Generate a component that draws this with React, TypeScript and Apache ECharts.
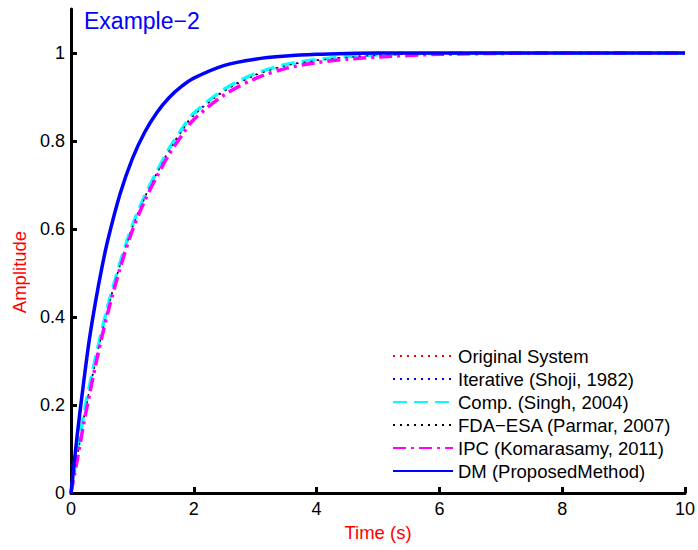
import React, { useEffect, useRef } from "react";
import * as echarts from "echarts";

const timeValues = [0, 0.1, 0.2, 0.3, 0.4, 0.5, 0.6, 0.8, 1.0, 1.2, 1.4, 1.6, 1.8, 2.0, 2.5, 3, 3.5, 4, 4.5, 5, 6, 7, 8, 9, 10];

const originalSystem = [0, 0.083, 0.163, 0.234, 0.3, 0.363, 0.42, 0.52, 0.605, 0.672, 0.728, 0.78, 0.823, 0.86, 0.915, 0.95, 0.972, 0.984, 0.991, 0.995, 0.999, 1, 1, 1, 1];
const iterativeShoji = [0, 0.085, 0.165, 0.236, 0.302, 0.364, 0.421, 0.521, 0.606, 0.673, 0.729, 0.781, 0.824, 0.861, 0.916, 0.951, 0.972, 0.984, 0.991, 0.995, 0.999, 1, 1, 1, 1];
const compSingh = [0, 0.09, 0.172, 0.243, 0.308, 0.369, 0.425, 0.524, 0.608, 0.675, 0.731, 0.783, 0.826, 0.863, 0.918, 0.953, 0.974, 0.985, 0.992, 0.996, 0.999, 1, 1, 1, 1];
const fdaEsaParmar = [0, 0.08, 0.16, 0.231, 0.297, 0.36, 0.418, 0.518, 0.603, 0.67, 0.726, 0.778, 0.821, 0.858, 0.913, 0.949, 0.971, 0.983, 0.99, 0.995, 0.999, 1, 1, 1, 1];
const ipcKomarasamy = [0, 0.074, 0.152, 0.223, 0.29, 0.353, 0.41, 0.511, 0.597, 0.664, 0.72, 0.77, 0.812, 0.849, 0.905, 0.942, 0.965, 0.978, 0.986, 0.991, 0.997, 0.999, 1, 1, 1];
const dmProposed = [0, 0.13, 0.245, 0.35, 0.435, 0.51, 0.575, 0.68, 0.76, 0.82, 0.865, 0.899, 0.924, 0.943, 0.972, 0.986, 0.993, 0.997, 0.999, 1, 1, 1, 1, 1, 1];

const seriesNames = [
  "Original System",
  "Iterative (Shoji, 1982)",
  "Comp. (Singh, 2004)",
  "FDA\u2212ESA (Parmar, 2007)",
  "IPC (Komarasamy, 2011)",
  "DM (ProposedMethod)",
];

const xTicks = [0, 2, 4, 6, 8, 10];
const yTicks = [0, 0.2, 0.4, 0.6, 0.8, 1];

const FONT = "Arial, 'Liberation Sans', Helvetica, sans-serif";

function pairs(vals: number[]) {
  return timeValues.map((t, i) => [t, vals[i]]);
}

export default function App() {
  const ref = useRef<HTMLDivElement>(null);
  useEffect(() => {
    if (!ref.current) return;
    const chart = echarts.init(ref.current, null, { renderer: "svg" });
    const styles: any[] = [
      { color: "#ff0000", width: 1.2, type: [2, 5] },
      { color: "#0000ff", width: 1.2, type: [2, 5] },
      { color: "#00ffff", width: 3.5, type: [14, 7] },
      { color: "#000000", width: 1.2, type: [2, 5] },
      { color: "#ff00ff", width: 3.5, type: [13, 5, 3, 5] },
      { color: "#0000ff", width: 3.5, type: "solid" },
    ];
    const dataSets = [originalSystem, iterativeShoji, compSingh, fdaEsaParmar, ipcKomarasamy, dmProposed];
    const option: any = {
      animation: false,
      textStyle: { fontFamily: FONT },
      grid: { left: 71, right: 11, top: 9, bottom: 57, containLabel: false },
      title: {
        text: "Example\u22122",
        left: 84,
        top: 9,
        padding: 0,
        textStyle: { color: "#0000ff", fontSize: 23, fontWeight: "normal", fontFamily: FONT },
      },
      graphic: [
        {
          type: "text",
          x: 19,
          y: 272,
          rotation: Math.PI / 2,
          style: {
            text: "Amplitude",
            fill: "#ff0000",
            fontSize: 18.5,
            fontFamily: FONT,
            align: "center",
            verticalAlign: "middle",
          },
        },
      ],
      legend: {
        orient: "vertical",
        left: 392,
        top: 346,
        padding: 0,
        itemWidth: 60,
        itemHeight: 14,
        itemGap: 3,
        data: seriesNames,
        itemStyle: { opacity: 0 },
        textStyle: { fontSize: 18.5, lineHeight: 20, color: "#000", fontFamily: FONT },
      },
      xAxis: {
        type: "value",
        min: 0,
        max: 10,
        interval: 2,
        name: "Time (s)",
        nameLocation: "middle",
        nameGap: 28,
        nameTextStyle: { color: "#ff0000", fontSize: 18.5, fontFamily: FONT },
        axisLine: { show: true, lineStyle: { color: "#000", width: 3 } },
        axisTick: { show: true, inside: true, length: 6, lineStyle: { color: "#000", width: 3 } },
        axisLabel: {
          color: "#000",
          fontSize: 18,
          margin: 7,
          fontFamily: FONT,
          formatter: (v: number) => (xTicks.includes(v) ? String(v) : ""),
        },
        splitLine: { show: false },
      },
      yAxis: {
        type: "value",
        min: 0,
        max: 1.1,
        interval: 0.2,
        axisLine: { show: true, lineStyle: { color: "#000", width: 3 } },
        axisTick: { show: true, inside: true, length: 6, lineStyle: { color: "#000", width: 3 } },
        axisLabel: {
          color: "#000",
          fontSize: 18,
          margin: 6,
          fontFamily: FONT,
          showMaxLabel: false,
          formatter: (v: number) => {
            const r = Math.round(v * 10) / 10;
            return yTicks.some((t) => Math.abs(t - r) < 1e-6) && Math.abs(v - r) < 1e-6 ? String(r) : "";
          },
        },
        splitLine: { show: false },
      },
      series: seriesNames.map((name, i) => ({
        name,
        type: "line",
        data: pairs(dataSets[i]),
        smooth: 0.3,
        symbol: "none",
        showSymbol: false,
        color: styles[i].color,
        lineStyle: styles[i],
        z: i,
      })),
    };
    chart.setOption(option);
    return () => chart.dispose();
  }, []);
  return (
    <div
      ref={ref}
      style={{ position: "fixed", left: 0, top: 0, width: 698, height: 550, background: "#fff" }}
    />
  );
}
